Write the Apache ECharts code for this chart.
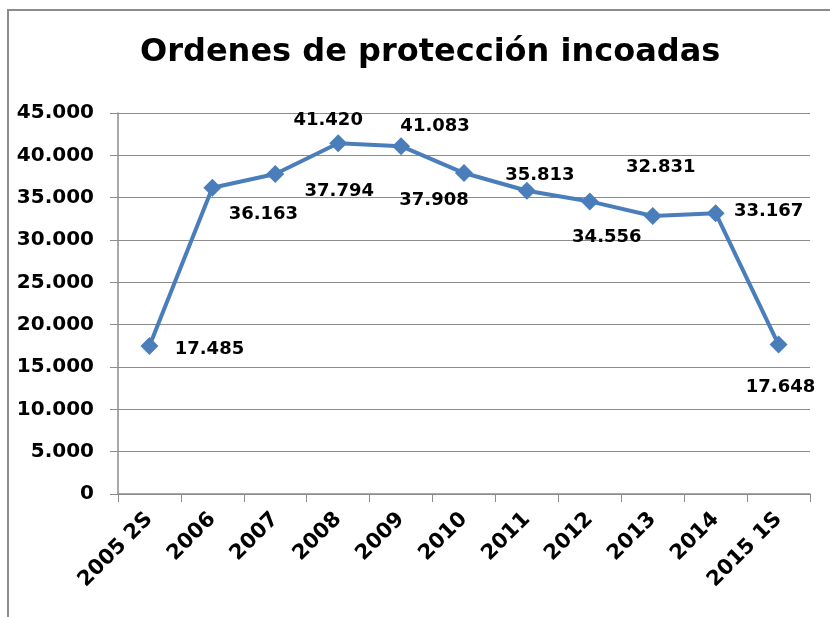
<!DOCTYPE html>
<html><head><meta charset="utf-8">
<script src="https://cdn.jsdelivr.net/npm/echarts@6/dist/echarts.min.js"></script>
<style>html,body{margin:0;padding:0;background:#fff}#c{width:830px;height:617px}</style>
</head><body><div id="c"></div>
<script>
const categories = ['2005 2S','2006','2007','2008','2009','2010','2011','2012','2013','2014','2015 1S'];
const values = [17485, 36163, 37794, 41420, 41083, 37908, 35813, 34556, 32831, 33167, 17648];
const yTicks = {min: 0, max: 45000, interval: 5000};
// label offsets relative to each point (layout only)
const labelOffsets = [[60,3],[51,27],[64,17],[-10,-23],[34,-20],[-30,27],[13,-15],[17,36],[8,-49],[53,-2],[2,43]];

const fmt = v => v === 0 ? '0' : String(v).replace(/\B(?=(\d{3})+(?!\d))/g, '.');
const chart = echarts.init(document.getElementById('c'));
const F = '"DejaVu Sans", Verdana, sans-serif';
chart.setOption({
  animation: false,
  backgroundColor: '#fff',
  title: {text: 'Ordenes de protección incoadas', left: 135, top: 32,
    textStyle: {fontFamily: F, fontWeight: 'bold', fontSize: 32, color: '#000'}},
  graphic: [{type: 'rect', shape: {x: 8, y: 10, width: 900, height: 700},
    style: {fill: 'none', stroke: '#8c8c8c', lineWidth: 2}, z: 100}],
  grid: {left: 118, right: 20, top: 113, bottom: 123},
  xAxis: {type: 'category', data: categories, boundaryGap: true,
    axisLine: {lineStyle: {color: '#8c8c8c', width: 1.5}},
    axisTick: {show: true, length: 8, lineStyle: {color: '#8c8c8c'}},
    axisLabel: {rotate: 45, margin: 22, fontFamily: F, fontWeight: 'bold', fontSize: 21, color: '#000', interval: 0},
    splitLine: {show: false}},
  yAxis: {type: 'value', min: yTicks.min, max: yTicks.max, interval: yTicks.interval,
    axisLine: {show: true, lineStyle: {color: '#8c8c8c', width: 1.5}},
    axisTick: {show: true, length: 8, lineStyle: {color: '#8c8c8c'}},
    axisLabel: {margin: 24, fontFamily: F, fontWeight: 'bold', fontSize: 20, color: '#000', formatter: fmt},
    splitLine: {lineStyle: {color: '#8c8c8c', width: 1.2}}},
  series: [{type: 'line', data: values.map((v, i) => ({value: v,
      label: {offset: labelOffsets[i]}})),
    symbol: 'diamond', symbolSize: 18,
    lineStyle: {color: '#4A7EBB', width: 4},
    itemStyle: {color: '#4A7EBB'},
    label: {show: true, position: 'inside', formatter: p => fmt(p.value),
      fontFamily: F, fontWeight: 'bold', fontSize: 18, color: '#000'}}]
});
</script></body></html>
